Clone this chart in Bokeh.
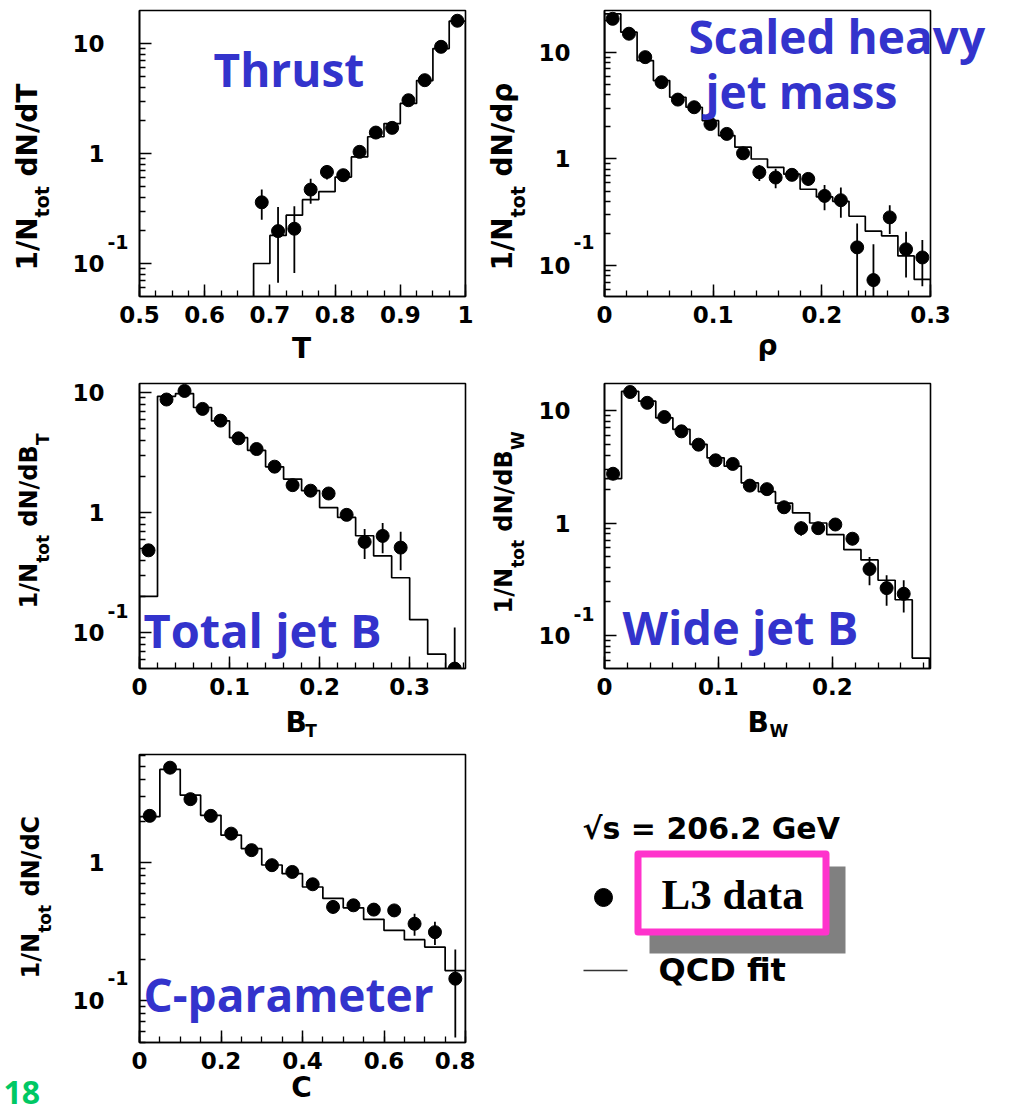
import numpy as np
from bokeh.plotting import figure
from bokeh.models import FixedTicker, Label, Range1d, LinearAxis, LogAxis, Title
from bokeh.layouts import column, row
from bokeh.embed import file_html
from bokeh.resources import INLINE

# ---------------- data ----------------
# Thrust
thrust_edges = [0.675, 0.700, 0.725, 0.750, 0.775, 0.800, 0.825, 0.850, 0.875, 0.900, 0.925, 0.950, 0.975, 1.000]
thrust_fit = [0.10, 0.18, 0.275, 0.38, 0.45, 0.61, 0.93, 1.42, 1.87, 2.85, 4.6, 9.0, 16.0]
thrust_x = [0.6875, 0.7125, 0.7375, 0.7625, 0.7875, 0.8125, 0.8375, 0.8625, 0.8875, 0.9125, 0.9375, 0.9625, 0.9875]
thrust_y = [0.36, 0.197, 0.207, 0.47, 0.68, 0.635, 1.035, 1.55, 1.71, 3.05, 4.64, 9.33, 16.1]
thrust_err = [0.11, 0.13, 0.125, 0.12, 0.10, 0.08, 0.10, 0.12, 0.13, 0.20, 0.25, 0.40, 0.50]

# Scaled heavy jet mass
rho_edges = [0.0, 0.015, 0.03, 0.045, 0.06, 0.075, 0.09, 0.105, 0.12, 0.135, 0.15,
             0.165, 0.18, 0.195, 0.21, 0.225, 0.24, 0.255, 0.27, 0.285, 0.30]
rho_fit = [23.0, 15.5, 8.4, 5.45, 3.8, 3.06, 2.29, 1.66, 1.29, 1.0, 0.835,
           0.72, 0.52, 0.44, 0.40, 0.29, 0.21, 0.19, 0.123, 0.074]
rho_x = [0.0075, 0.0225, 0.0375, 0.0525, 0.0675, 0.0825, 0.0975, 0.1125, 0.1275, 0.1425,
         0.1575, 0.1725, 0.1875, 0.2025, 0.2175, 0.2325, 0.2475, 0.2625, 0.2775, 0.2925]
rho_y = [20.7, 15.0, 9.04, 5.26, 3.61, 3.06, 2.13, 1.72, 1.13, 0.75,
         0.67, 0.71, 0.65, 0.45, 0.41, 0.148, 0.073, 0.283, 0.142, 0.119]
rho_err = [0.5, 0.4, 0.3, 0.2, 0.15, 0.13, 0.10, 0.09, 0.08, 0.13,
           0.14, 0.09, 0.09, 0.12, 0.13, 0.10, 0.085, 0.085, 0.065, 0.055]

# Total jet broadening
bt_edges = [0.0, 0.02, 0.04, 0.06, 0.08, 0.10, 0.12, 0.14, 0.16, 0.18,
            0.20, 0.22, 0.24, 0.26, 0.28, 0.30, 0.32, 0.34, 0.36]
bt_fit = [0.20, 9.3, 9.8, 7.5, 5.8, 4.2, 3.3, 2.4, 1.9, 1.52,
          1.1, 0.91, 0.64, 0.435, 0.286, 0.128, 0.066, 0.02]
bt_x = [0.01, 0.03, 0.05, 0.07, 0.09, 0.11, 0.13, 0.15, 0.17, 0.19, 0.21, 0.23, 0.25, 0.27, 0.29, 0.35]
bt_y = [0.484, 8.74, 10.3, 7.3, 5.83, 4.15, 3.38, 2.41, 1.69, 1.52, 1.44, 0.956, 0.569, 0.638, 0.51, 0.05]
bt_err = [0.04, 0.3, 0.35, 0.3, 0.25, 0.2, 0.18, 0.15, 0.12, 0.11, 0.10, 0.10, 0.16, 0.18, 0.18, 0.06]

# Wide jet broadening
bw_edges = [0.0, 0.015, 0.03, 0.045, 0.06, 0.075, 0.09, 0.105, 0.12, 0.135,
            0.15, 0.165, 0.18, 0.195, 0.21, 0.225, 0.24, 0.255, 0.27, 0.285]
bw_fit = [2.48, 14.8, 12.1, 8.6, 6.8, 5.0, 3.8, 3.2, 2.27, 1.9,
          1.5, 1.23, 1.0, 0.79, 0.58, 0.47, 0.31, 0.208, 0.063]
bw_x = [0.0075, 0.0225, 0.0375, 0.0525, 0.0675, 0.0825, 0.0975, 0.1125, 0.1275,
        0.1425, 0.1575, 0.1725, 0.1875, 0.2025, 0.2175, 0.2325, 0.2475, 0.2625]
bw_y = [2.74, 14.6, 11.7, 8.75, 6.53, 4.97, 3.61, 3.35, 2.15,
        2.0, 1.38, 0.90, 0.90, 0.97, 0.725, 0.39, 0.264, 0.235]
bw_err = [0.1, 0.4, 0.35, 0.3, 0.25, 0.2, 0.15, 0.15, 0.12,
          0.12, 0.10, 0.13, 0.10, 0.10, 0.09, 0.11, 0.08, 0.075]

# C-parameter
c_edges = [0.0, 0.05, 0.10, 0.15, 0.20, 0.25, 0.30, 0.35, 0.40,
           0.45, 0.50, 0.55, 0.60, 0.65, 0.70, 0.75, 0.80]
c_fit = [2.15, 4.73, 3.08, 2.2, 1.58, 1.26, 0.96, 0.83, 0.665,
         0.55, 0.47, 0.388, 0.322, 0.276, 0.244, 0.165]
c_x = [0.025, 0.075, 0.125, 0.175, 0.225, 0.275, 0.325, 0.375,
       0.425, 0.475, 0.525, 0.575, 0.625, 0.675, 0.725, 0.775]
c_y = [2.18, 4.87, 2.88, 2.18, 1.62, 1.23, 0.957, 0.855,
       0.696, 0.477, 0.49, 0.456, 0.45, 0.36, 0.313, 0.144]
c_err = [0.07, 0.12, 0.08, 0.07, 0.06, 0.05, 0.05, 0.04,
         0.04, 0.05, 0.04, 0.04, 0.04, 0.065, 0.06, 0.09]

# tick labels
thrust_ticks = [0.5, 0.6, 0.7, 0.8, 0.9, 1.0]
thrust_tick_labels = ["0.5", "0.6", "0.7", "0.8", "0.9", "1"]
rho_ticks = [0.0, 0.1, 0.2, 0.3]
rho_tick_labels = ["0", "0.1", "0.2", "0.3"]
bt_ticks = [0.0, 0.1, 0.2, 0.3]
bt_tick_labels = ["0", "0.1", "0.2", "0.3"]
bw_ticks = [0.0, 0.1, 0.2]
bw_tick_labels = ["0", "0.1", "0.2"]
c_ticks = [0.0, 0.2, 0.4, 0.6, 0.8]
c_tick_labels = ["0", "0.2", "0.4", "0.6", "0.8"]
y_ticks = [0.1, 1.0, 10.0]
y_tick_labels = ["10", "1", "10"]
y_exponent = "-1"

# ---------------- styling / layout constants ----------------
SANS = "DejaVu Sans"
FUN = "Open Sans"
BLUE = "#3333CC"
FW = 326
Y_MINOR = [0.05, 0.06, 0.07, 0.08, 0.09, 0.2, 0.3, 0.4, 0.5, 0.6, 0.7, 0.8, 0.9,
           2, 3, 4, 5, 6, 7, 8, 9, 20]
H = 1.164      # text box height / font size (DejaVu)
PAD = 3        # extra room bokeh adds after each row of axis labels
HANG = 0.087   # glyph top below anchor for labels under an axis / font size
TICK_SIZE = 23
X_STANDOFF = 9


class Panel:
    def __init__(self, page_left, page_top, w, h, bl, bt, fh, xr, ylog):
        self.pl, self.pt, self.w, self.h = page_left, page_top, w, h
        self.bl, self.bt, self.fh = bl, bt, fh
        self.xr = xr
        self.ylog = ylog
        self.fl = page_left + bl
        self.ft = page_top + bt
        self.fb = self.ft + fh
        self.fr = self.fl + FW

    def x(self, px):
        return self.xr[0] + (px - self.fl) / FW * (self.xr[1] - self.xr[0])

    def y(self, py):
        lt, lb = self.ylog[1], self.ylog[0]
        return 10 ** (lt - (py - self.ft) / self.fh * (lt - lb))


def text_axis(p, side, positions, labels, size, standoff, font=SANS, color="black",
              orientation="horizontal", log=False):
    Axis = LogAxis if log else LinearAxis
    ax = Axis(ticker=FixedTicker(ticks=list(positions), minor_ticks=[]),
              major_label_overrides={t: l for t, l in zip(positions, labels)},
              major_label_standoff=int(round(standoff)),
              major_label_orientation=orientation,
              major_label_text_font=font, major_label_text_font_style="bold",
              major_label_text_font_size=f"{size}px", major_label_text_color=color,
              axis_line_color=None, major_tick_line_color=None, minor_tick_line_color=None,
              major_tick_in=0, major_tick_out=0, minor_tick_in=0, minor_tick_out=0)
    p.add_layout(ax, side)


def make_panel(g, edges, fit, xs, ys, errs, ticks, tick_labels, minor_step):
    p = figure(width=g.w, height=g.h, y_axis_type="log",
               x_range=Range1d(*g.xr), y_range=Range1d(10 ** g.ylog[0], 10 ** g.ylog[1]),
               output_backend="svg", toolbar_location=None,
               min_border_left=g.bl, min_border_right=g.w - g.bl - FW,
               min_border_top=g.bt, min_border_bottom=g.h - g.bt - g.fh)
    p.background_fill_color = "white"
    p.border_fill_color = "white"
    p.outline_line_color = "black"
    p.outline_line_width = 1.6
    p.xgrid.visible = False
    p.ygrid.visible = False

    minors = [round(v, 4) for v in np.arange(g.xr[0], g.xr[1] + 1e-9, minor_step)]
    p.xaxis.ticker = FixedTicker(ticks=ticks, minor_ticks=minors)
    p.xaxis.major_label_overrides = {t: l for t, l in zip(ticks, tick_labels)}
    p.yaxis.ticker = FixedTicker(ticks=y_ticks, minor_ticks=Y_MINOR)
    p.yaxis.major_label_overrides = {t: "" for t in y_ticks}
    for ax in (p.xaxis[0], p.yaxis[0]):
        ax.major_tick_in = 12
        ax.major_tick_out = 0
        ax.minor_tick_in = 6
        ax.minor_tick_out = 0
        ax.major_tick_line_width = 1.5
        ax.minor_tick_line_width = 1.3
        ax.axis_line_width = 1.6
        ax.major_label_text_font = SANS
        ax.major_label_text_font_style = "bold"
        ax.major_label_text_font_size = f"{TICK_SIZE}px"
        ax.major_label_text_color = "black"
    p.xaxis.major_label_standoff = X_STANDOFF
    p.yaxis.major_label_standoff = 0

    # QCD fit histogram (step outline rising from / falling to below the frame)
    floor = 1e-3
    hx = [edges[0]] + list(edges)
    hy = [floor] + list(fit) + [floor]
    p.step(hx, hy, mode="after", line_color="black", line_width=1.7)

    # data points with error bars
    ys_a = np.array(ys)
    er_a = np.array(errs)
    lo = np.maximum(ys_a - er_a, floor)
    hi = ys_a + er_a
    p.segment(x0=xs, y0=lo, x1=xs, y1=hi, line_color="black", line_width=1.8)
    p.scatter(xs, ys, size=13, marker="circle", color="black")
    return p


def left_texts(p, g, exp_py, tick_right, sub_pieces, sub_base, sub_size,
               main_pieces, main_base, main_size):
    # exponent "-1" of the lowest tick label, right of the tick labels
    exp_w = 1.111 * 19
    a1 = g.fl - tick_right - exp_w - PAD
    text_axis(p, "left", [g.y(exp_py)], [y_exponent], 19, a1, log=True)
    R = g.fl - int(round(a1)) - exp_w - PAD
    # the tick labels themselves
    text_axis(p, "left", y_ticks, y_tick_labels, TICK_SIZE, 0, log=True)
    R -= 1.392 * TICK_SIZE + PAD
    # subscript pieces of the axis title (vertical, baseline at sub_base)
    text_axis(p, "left", [g.y(c) for _, c in sub_pieces], [t for t, _ in sub_pieces],
              sub_size, R - sub_base, orientation="vertical", log=True)
    R = sub_base - H * sub_size - PAD
    # main pieces of the axis title
    text_axis(p, "left", [g.y(c) for _, c in main_pieces], [t for t, _ in main_pieces],
              main_size, R - main_base, orientation="vertical", log=True)


def below_texts(p, g, pieces, page_number=None):
    T = g.fb + X_STANDOFF + H * TICK_SIZE + PAD
    for txt, cx, cap, size in pieces:
        sy = cap - HANG * size
        s = int(round(sy - T))
        text_axis(p, "below", [g.x(cx)], [txt], size, s)
        T = T + s + H * size + PAD
    if page_number is not None:
        txt, left_px, base, size, color = page_number
        center = base - 0.39 * size
        s = 2 * (center - 1.5 - T)
        p.add_layout(Title(text=txt, align="left", vertical_align="top",
                           offset=left_px - g.fl, standoff=s, text_font=FUN,
                           text_font_style="bold", text_font_size=f"{size}px",
                           text_color=color), "below")


def frame_label(p, g, left_px, base_py, txt, size, font=FUN, color=BLUE, k=0.43):
    p.add_layout(Label(x=g.xr[0], y=10 ** g.ylog[0], x_offset=left_px - g.fl,
                       y_offset=g.fb - (base_py - k * size), text=txt,
                       text_font=font, text_font_style="bold",
                       text_font_size=f"{size}px", text_color=color,
                       text_align="left", text_baseline="alphabetic"))


# ---------------- panels ----------------
g1 = Panel(0, 0, 475, 377, 139, 10, 286, (0.5, 1.0), (-1.3, 1.3))
g2 = Panel(475, 0, 530, 377, 129, 10, 286, (0.0, 0.3), (-1.291, 1.394))
g3 = Panel(0, 377, 475, 376, 139, 6, 285, (0.0, 0.362), (-1.3, 1.075))
g4 = Panel(475, 377, 530, 376, 129, 6, 285, (0.0, 0.286), (-1.293, 1.24))
g5 = Panel(0, 753, 475, 362, 139, 1, 288, (0.0, 0.8), (-1.304, 0.783))

p1 = make_panel(g1, thrust_edges, thrust_fit, thrust_x, thrust_y, thrust_err,
                thrust_ticks, thrust_tick_labels, 0.025)
p2 = make_panel(g2, rho_edges, rho_fit, rho_x, rho_y, rho_err,
                rho_ticks, rho_tick_labels, 0.02)
p3 = make_panel(g3, bt_edges, bt_fit, bt_x, bt_y, bt_err,
                bt_ticks, bt_tick_labels, 0.02)
p4 = make_panel(g4, bw_edges, bw_fit, bw_x, bw_y, bw_err,
                bw_ticks, bw_tick_labels, 0.02)
p5 = make_panel(g5, c_edges, c_fit, c_x, c_y, c_err,
                c_ticks, c_tick_labels, 0.05)

# y axis titles
left_texts(p1, g1, 241, 104, [("tot", 201.3)], 52.5, 19,
           [("1/N", 243.4), ("dN/dT", 129.6)], 43, 28)
left_texts(p2, g2, 241, 570, [("tot", 201.3)], 529, 19,
           [("1/N", 243.4), ("dN/dρ", 129.1)], 519, 28)
left_texts(p3, g3, 610, 104, [("tot", 548.4), ("T", 438.8)], 53, 17,
           [("1/N", 585.2), ("dN/dB", 485.4)], 43, 24)
left_texts(p4, g4, 613, 570, [("tot", 553.4), ("W", 440.2)], 528, 17,
           [("1/N", 590.2), ("dN/dB", 490.4)], 518, 24)
left_texts(p5, g5, 977, 104, [("tot", 918.4)], 55, 17,
           [("1/N", 955.2), ("dN/dC", 855.7)], 45, 24)

# x axis titles
below_texts(p1, g1, [("T", 301, 343, 28)])
below_texts(p2, g2, [("ρ", 767, 340, 28)])
below_texts(p3, g3, [("B", 295.7, 717, 28), ("T", 310.5, 731, 17)])
below_texts(p4, g4, [("B", 757.7, 717, 28), ("W", 778.4, 731, 17)])
below_texts(p5, g5, [("C", 301, 1082, 28)], page_number=("18", 3, 1104, 32, "#00C864"))

# panel names
frame_label(p1, g1, 213, 88, "Thrust", 46)
frame_label(p2, g2, 705, 110, "jet mass", 46)
frame_label(p3, g3, 143, 650, "Total jet B", 47)
frame_label(p4, g4, 622, 647, "Wide jet B", 47)
frame_label(p5, g5, 143, 1013, "C-parameter", 46)
# "Scaled heavy" runs past the right edge of its frame
text_axis(p2, "right", [g2.y(53 - 0.39 * 46)], ["Scaled heavy"], 46, 688 - g2.fr,
          font=FUN, color=BLUE, log=True)

# ---------------- legend panel ----------------
LW, LH = 530, 362
leg = figure(width=LW, height=LH, x_range=Range1d(0, LW), y_range=Range1d(0, 288),
             output_backend="svg", toolbar_location=None,
             min_border_left=0, min_border_right=0, min_border_top=1, min_border_bottom=73,
             x_axis_location=None, y_axis_location=None)
leg.xgrid.visible = False
leg.ygrid.visible = False
leg.outline_line_color = None
leg.background_fill_color = "white"
leg.border_fill_color = "white"
LEG_LEFT, LEG_BOTTOM = 475, 1042


def L(px, py):
    return px - LEG_LEFT, LEG_BOTTOM - py


def leg_text(px, py, t, size, font=SANS, k=0.40):
    x, y = L(px, py - k * size)
    leg.add_layout(Label(x=x, y=y, text=t, text_font=font, text_font_style="bold",
                         text_font_size=f"{size}px", text_color="black",
                         text_align="left", text_baseline="alphabetic"))


leg_text(582, 840, "√s = 206.2 GeV", 30)
sx0, sy1 = L(649, 866)
sx1, sy0 = L(845, 953)
leg.quad(left=sx0, right=sx1, bottom=sy0, top=sy1, fill_color="#808080", line_color=None)
bx0, by1 = L(637.5, 853.5)
bx1, by0 = L(825.5, 931.5)
leg.quad(left=bx0, right=bx1, bottom=by0, top=by1, fill_color="white",
         line_color="#FF33CC", line_width=7, line_join="round")
dx, dy = L(603, 897)
leg.scatter([dx], [dy], size=18, marker="circle", color="black")
leg_text(661, 910, "L3 data", 43, font="Liberation Serif", k=0.37)
lx0, ly = L(583, 970)
lx1, _ = L(627, 970)
leg.line([lx0, lx1], [ly, ly], line_color="#333333", line_width=1.5)
leg_text(658, 982, "QCD fit", 32)

layout = column(row(p1, p2), row(p3, p4), row(p5, leg))
open("out.html", "w").write(file_html(layout, INLINE))
